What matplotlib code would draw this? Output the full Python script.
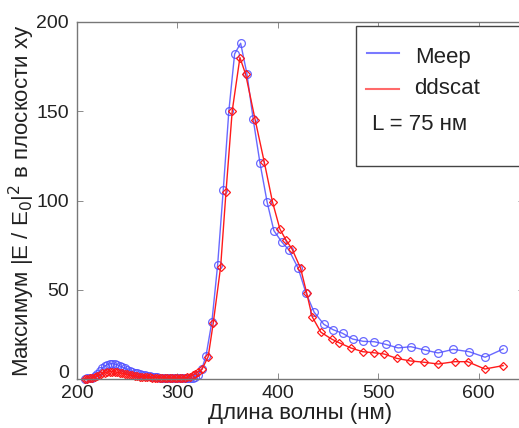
import matplotlib
matplotlib.use("Agg")
import matplotlib.pyplot as plt
from matplotlib.patches import Rectangle
from matplotlib.lines import Line2D
from matplotlib.transforms import ScaledTranslation

plt.rcParams['font.family'] = ['Liberation Sans', 'DejaVu Sans']

# Meep (blue, circles)
meep_wl = [207.5, 210, 212.5, 215, 217.5, 220, 222.5, 225, 227.5, 230, 232.5, 235,
           237.5, 240, 242.5, 245, 247.5, 250, 252.5, 255, 257.5, 260, 262.5, 265,
           267.5, 270, 272.5, 275, 277.5, 280, 282.5, 285, 287.5, 290, 292.5, 295,
           297.5, 300, 302.5, 305, 307.5, 310, 312.5, 315, 317.5, 320,
           324.1, 328.4, 334.3, 340.0, 345.6, 351.2, 356.9, 362.9, 369.2, 375.4,
           382.1, 389.3, 396.0, 403.7, 410.9, 420.2, 427.9, 436.1, 445.8, 455.0,
           464.4, 474.3, 484.9, 495.8, 507.5, 519.7, 532.3, 546.3, 559.5, 574.4,
           590.3, 606.3, 624.2]
meep_val = [0.2, 0.3, 0.4, 0.8, 1.5, 2.8, 4.5, 6.0, 7.2, 8.0, 8.5, 8.6,
            8.4, 8.0, 7.4, 6.7, 6.0, 5.3, 4.7, 4.1, 3.6, 3.2, 2.8, 2.4,
            2.1, 1.8, 1.5, 1.3, 1.1, 0.9, 0.8, 0.7, 0.6, 0.5, 0.5, 0.4,
            0.4, 0.3, 0.3, 0.3, 0.3, 0.3, 0.4, 0.6, 1.0, 2.0,
            5.4, 12.9, 32.1, 63.9, 105.9, 150.3, 182.1, 188.1, 170.9, 145.5,
            121.2, 99.0, 83.1, 76.9, 72.3, 62.0, 48.3, 37.4, 30.6, 27.6,
            25.6, 22.4, 21.1, 20.9, 19.4, 17.4, 18.1, 16.2, 14.6, 16.6,
            15.3, 12.2, 16.8]

# ddscat (red, diamonds)
dds_wl = [207.5, 210, 212.5, 215, 217.5, 220, 222.5, 225, 227.5, 230, 232.5, 235,
          237.5, 240, 242.5, 245, 247.5, 250, 252.5, 255, 257.5, 260, 262.5, 265,
          267.5, 270, 272.5, 275, 277.5, 280, 282.5, 285, 287.5, 290, 292.5, 295,
          297.5, 300, 302.5, 305, 307.5, 310, 312.5, 315, 317.5, 320,
          324.4, 330.6, 335.6, 343.0, 348.3, 354.5, 362.2, 367.9, 377.4, 386.4,
          394.7, 402.0, 408.0, 414.2, 422.6, 428.6, 434.1, 442.8, 453.4, 461.0,
          472.6, 484.3, 495.5, 505.8, 518.1, 532.0, 545.3, 559.5, 576.1, 588.8,
          606.0, 624.2]
dds_val = [0.1, 0.2, 0.3, 0.5, 0.9, 1.6, 2.4, 3.1, 3.6, 3.9, 4.1, 4.1,
           4.0, 3.8, 3.5, 3.2, 2.9, 2.6, 2.3, 2.0, 1.8, 1.6, 1.4, 1.25,
           1.1, 1.0, 0.9, 0.8, 0.7, 0.65, 0.6, 0.55, 0.5, 0.5, 0.45, 0.45,
           0.4, 0.4, 0.45, 0.5, 0.6, 0.9, 1.4, 2.1, 2.9, 3.8,
           5.4, 12.5, 31.2, 62.9, 104.6, 150.1, 180.1, 170.7, 145.1, 121.6,
           99.0, 84.0, 77.9, 72.7, 62.0, 48.3, 34.9, 26.2, 22.4, 20.3,
           17.4, 15.3, 14.7, 14.0, 11.6, 10.1, 9.4, 8.4, 9.7, 9.7,
           5.6, 7.5]

xticks = [200, 300, 400, 500, 600]
yticks = [0, 50, 100, 150, 200]

blue = '#4f4fff'
red = '#ff1a1a'

W, H = 519, 428
fig = plt.figure(figsize=(W / 100, H / 100), dpi=100)
ax = fig.add_axes([77 / W, 1 - 379 / H, (524 - 77) / W, (379 - 22) / H])

ax.plot(meep_wl, meep_val, color=blue, lw=1.0, marker='o', ms=5.6,
        mfc='none', mec=blue, mew=0.9, alpha=0.85, clip_on=False)
ax.plot(dds_wl, dds_val, color=red, lw=1.0, marker='D', ms=4.0,
        mfc='none', mec=red, mew=0.9, clip_on=False)

ax.set_xlim(200, 645)
ax.set_ylim(0, 200)
ax.set_xticks(xticks)
ax.set_yticks(yticks)
ax.tick_params(direction='in', top=True, right=True, length=4, width=0.6,
               colors='#777777', labelcolor='#222222', labelsize=14)
ax.tick_params(axis='x', pad=4)
ax.tick_params(axis='y', pad=6)
for s in ax.spines.values():
    s.set_color('#777777')
    s.set_linewidth(1.0)

# raise the "0" label of the y axis as in the reference
lbl0 = ax.yaxis.get_major_ticks()[0].label1
lbl0.set_transform(lbl0.get_transform() +
                   ScaledTranslation(0, 8 / 100, fig.dpi_scale_trans))

ax.set_xlabel('Длина волны (нм)', fontsize=16, color='#222222', labelpad=1)
ax.set_ylabel('Максимум |E / E$_0$|$^2$ в плоскости xy', fontsize=16,
              color='#222222', labelpad=-1)

# legend box
def ax_x(px):
    return (px - 77) / (524 - 77)
def ax_y(py):
    return (379 - py) / (379 - 22)

x0 = ax_x(356)
ax.add_patch(Rectangle((x0, ax_y(166)), 1.2 - x0, ax_y(26) - ax_y(166),
                       transform=ax.transAxes, fill=True, facecolor='white',
                       edgecolor='#444444', lw=1.0, clip_on=False, zorder=5))
ax.add_line(Line2D([ax_x(367), ax_x(399)], [ax_y(53), ax_y(53)],
                   transform=ax.transAxes, color='#7a7aff', lw=1.5, zorder=6))
ax.add_line(Line2D([ax_x(366), ax_x(399)], [ax_y(89), ax_y(89)],
                   transform=ax.transAxes, color='#ff6a6a', lw=1.5, zorder=6))
ax.text(ax_x(415), ax_y(57), 'Meep', transform=ax.transAxes, fontsize=16,
        va='center', ha='left', color='#222222', zorder=7)
ax.text(ax_x(414), ax_y(88), 'ddscat', transform=ax.transAxes, fontsize=16,
        va='center', ha='left', color='#222222', zorder=7)
ax.text(ax_x(372), ax_y(124), 'L = 75 нм', transform=ax.transAxes, fontsize=16,
        va='center', ha='left', color='#222222', zorder=7)

fig.savefig('out.png', dpi=100)
